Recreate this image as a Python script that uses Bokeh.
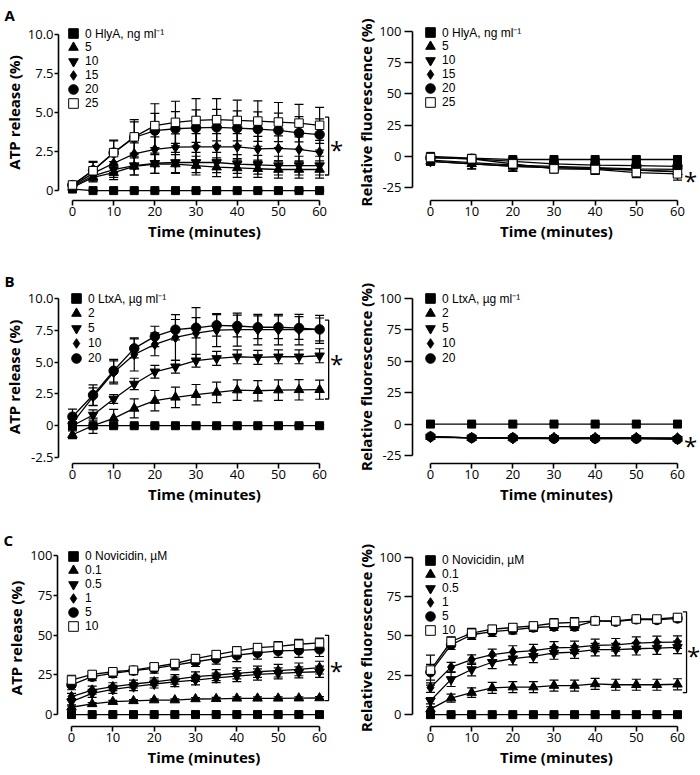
from bokeh.plotting import figure
from bokeh.layouts import column, row
from bokeh.models import (ColumnDataSource, Whisker, TeeHead, Legend, LegendItem,
                          Label, FixedTicker, Range1d)
from bokeh.embed import file_html
from bokeh.resources import INLINE

FONT = "Open Sans"
LEGEND_FONT = "Liberation Sans"

# ---------------- data ----------------
time_5min = [0, 5, 10, 15, 20, 25, 30, 35, 40, 45, 50, 55, 60]
time_10min = [0, 10, 20, 30, 40, 50, 60]
x_ticks = [0, 10, 20, 30, 40, 50, 60]

# Panel A - HlyA
hly_labels = ["0 HlyA, ng ml\u207b\u00b9", "5", "10", "15", "20", "25"]
a_atp_0 = [0.1, 0.0, 0.0, 0.0, 0.0, 0.0, 0.0, 0.0, 0.0, 0.0, 0.0, 0.0, 0.0]
a_atp_0_err = [0.05, 0.05, 0.05, 0.05, 0.05, 0.05, 0.05, 0.05, 0.05, 0.05, 0.05, 0.05, 0.05]
a_atp_5 = [0.2, 0.85, 1.15, 1.55, 1.7, 1.7, 1.6, 1.5, 1.45, 1.4, 1.35, 1.35, 1.35]
a_atp_5_err = [0.15, 0.3, 0.45, 0.55, 0.6, 0.6, 0.6, 0.6, 0.6, 0.55, 0.55, 0.55, 0.55]
a_atp_10 = [0.25, 0.95, 1.35, 1.6, 1.75, 1.8, 1.8, 1.8, 1.7, 1.65, 1.6, 1.6, 1.6]
a_atp_10_err = [0.15, 0.35, 0.5, 0.6, 0.65, 0.65, 0.65, 0.65, 0.6, 0.6, 0.6, 0.6, 0.6]
a_atp_15 = [0.3, 1.1, 1.75, 2.35, 2.64, 2.78, 2.8, 2.8, 2.8, 2.67, 2.7, 2.64, 2.47]
a_atp_15_err = [0.15, 0.4, 0.6, 0.7, 0.8, 0.85, 0.85, 0.85, 0.85, 0.8, 0.8, 0.8, 0.75]
a_atp_20 = [0.35, 1.3, 2.43, 3.4, 3.84, 3.96, 4.02, 4.05, 4.0, 3.94, 3.86, 3.69, 3.59]
a_atp_20_err = [0.2, 0.5, 0.75, 1.0, 1.1, 1.1, 1.15, 1.15, 1.1, 1.1, 1.1, 1.05, 1.0]
a_atp_25 = [0.36, 1.27, 2.43, 3.44, 4.16, 4.37, 4.49, 4.54, 4.49, 4.45, 4.39, 4.32, 4.18]
a_atp_25_err = [0.2, 0.6, 0.8, 1.1, 1.4, 1.35, 1.4, 1.35, 1.3, 1.3, 1.25, 1.2, 1.15]
a_atp_bracket = [1.0, 4.7]
a_atp_star = 2.8

a_fl_0 = [0, -1.5, -2.5, -2.5, -2.5, -2.5, -2.5]
a_fl_0_err = [1, 1, 1, 1, 1, 1, 1]
a_fl_5 = [-4, -6, -8, -9, -9.5, -11, -12.5]
a_fl_5_err = [3, 4, 4, 4, 4, 4, 4]
a_fl_10 = [-4, -6, -8, -9, -10, -11, -12]
a_fl_10_err = [3, 4, 4, 4, 4, 4, 4]
a_fl_15 = [-3, -5, -7, -8, -9, -10, -10.5]
a_fl_15_err = [3, 3, 4, 4, 4, 4, 4]
a_fl_20 = [-1, -2, -4, -6, -7, -7.5, -8]
a_fl_20_err = [2, 3, 3, 3, 3, 3, 3]
a_fl_25 = [-1, -2, -6, -10, -10.5, -13, -14]
a_fl_25_err = [2, 3, 3, 3, 4, 4, 5]
a_fl_star = -17

# Panel B - LtxA
ltx_labels = ["0 LtxA, \u00b5g ml\u207b\u00b9", "2", "5", "10", "20"]
b_atp_0 = [0.0, 0.0, 0.0, 0.0, 0.0, 0.0, 0.0, 0.0, 0.0, 0.0, 0.0, 0.0, 0.0]
b_atp_0_err = [0.1, 0.1, 0.1, 0.1, 0.1, 0.1, 0.1, 0.1, 0.1, 0.1, 0.1, 0.1, 0.1]
b_atp_2 = [-0.71, 0.0, 0.58, 1.36, 1.97, 2.23, 2.44, 2.62, 2.8, 2.75, 2.8, 2.82, 2.83]
b_atp_2_err = [0.3, 0.6, 0.7, 0.75, 0.8, 0.8, 0.8, 0.8, 0.8, 0.8, 0.8, 0.8, 0.75]
b_atp_5 = [0.0, 0.84, 2.1, 3.28, 4.24, 4.64, 5.11, 5.29, 5.42, 5.37, 5.42, 5.42, 5.5]
b_atp_5_err = [0.3, 0.4, 0.35, 0.45, 0.5, 0.5, 0.5, 0.55, 0.55, 0.55, 0.55, 0.55, 0.55]
b_atp_10 = [0.2, 2.28, 4.19, 5.6, 6.4, 6.94, 7.28, 7.52, 7.55, 7.55, 7.55, 7.55, 7.57]
b_atp_10_err = [0.3, 0.7, 0.9, 1.3, 0.9, 1.8, 2.0, 1.3, 1.3, 1.2, 1.2, 1.2, 1.1]
b_atp_20 = [0.71, 2.41, 4.32, 6.08, 7.02, 7.55, 7.7, 7.89, 7.84, 7.74, 7.74, 7.68, 7.57]
b_atp_20_err = [0.6, 0.8, 0.9, 0.75, 0.8, 0.8, 0.8, 0.85, 0.85, 0.9, 0.9, 0.9, 0.9]
b_atp_bracket = [2.1, 8.3]
b_atp_star = 5.1

b_fl_0 = [0, 0, 0, 0, 0, 0, 0]
b_fl_0_err = [0.5, 0.5, 0.5, 0.5, 0.5, 0.5, 0.5]
b_fl_2 = [-10, -11, -11, -11, -11, -11, -11.5]
b_fl_2_err = [1.5, 1.5, 1.5, 1.5, 1.5, 1.5, 1.5]
b_fl_5 = [-10.5, -11, -11.5, -11.5, -11.5, -11.5, -12]
b_fl_5_err = [1.5, 1.5, 1.5, 1.5, 1.5, 1.5, 1.5]
b_fl_10 = [-10, -11, -11, -11, -11, -11, -11]
b_fl_10_err = [1, 1, 1, 1, 1, 1, 1]
b_fl_20 = [-10, -11, -11, -11.5, -11.5, -11.5, -12]
b_fl_20_err = [1, 1, 1, 1, 1, 1, 1]
b_fl_star = -15

# Panel C - Novicidin
nov_labels = ["0 Novicidin, \u00b5M", "0.1", "0.5", "1", "5", "10"]
c_atp_0 = [0.0, 0.0, 0.0, 0.0, 0.0, 0.0, 0.0, 0.0, 0.0, 0.0, 0.0, 0.0, 0.0]
c_atp_0_err = [0.3, 0.3, 0.3, 0.3, 0.3, 0.3, 0.3, 0.3, 0.3, 0.3, 0.3, 0.3, 0.3]
c_atp_01 = [4.6, 6.7, 8.1, 8.6, 9.1, 9.1, 9.8, 9.9, 10.2, 10.2, 10.2, 10.3, 10.4]
c_atp_01_err = [0.8, 0.8, 0.8, 0.8, 0.8, 0.8, 0.8, 0.9, 0.9, 0.9, 0.9, 0.9, 0.9]
c_atp_05 = [8.1, 13.3, 15.8, 17.5, 19.2, 20.6, 21.7, 23.1, 24.2, 25.2, 25.9, 26.5, 26.9]
c_atp_05_err = [2, 2.5, 2.5, 2.5, 2.5, 3, 3, 3, 3.5, 3.5, 3.5, 3.5, 3.5]
c_atp_1 = [11.3, 15.4, 17.5, 19.2, 20.6, 22.1, 23.8, 24.8, 25.9, 26.9, 27.6, 28.4, 29.5]
c_atp_1_err = [2, 2.5, 2.5, 2.5, 2.5, 3, 3, 3.5, 3.5, 3.5, 4, 4, 4]
c_atp_5 = [18.6, 23.8, 25.9, 27.6, 29.0, 31.1, 33.2, 35.2, 37.3, 38.8, 40.0, 40.4, 41.0]
c_atp_5_err = [3, 2.5, 2.5, 2.5, 3, 3, 3, 3.5, 4, 4, 4, 4.5, 4.5]
c_atp_10 = [21.7, 25.2, 26.9, 27.9, 30.0, 32.1, 35.2, 37.7, 40.0, 42.1, 42.9, 44.2, 45.0]
c_atp_10_err = [3, 2, 2, 2, 2, 2, 2.5, 2.5, 2.5, 2.5, 3, 3, 3]
c_atp_bracket = [8.8, 49.8]
c_atp_star = 29.5

c_fl_0 = [0.0, 0.0, 0.0, 0.0, 0.0, 0.0, 0.0, 0.0, 0.0, 0.0, 0.0, 0.0, 0.0]
c_fl_0_err = [0.3, 0.3, 0.3, 0.3, 0.3, 0.3, 0.3, 0.3, 0.3, 0.3, 0.3, 0.3, 0.3]
c_fl_01 = [3.5, 10.5, 14.0, 17.0, 17.5, 17.5, 18.5, 18.5, 19.5, 19.0, 19.0, 19.0, 19.3]
c_fl_01_err = [1.5, 2.5, 3, 3.5, 3.5, 3.5, 3.5, 3.5, 3.5, 3.5, 3.5, 3.5, 3.5]
c_fl_05 = [8.8, 22.4, 28.7, 33.3, 35.6, 37.1, 39.2, 39.8, 41.3, 41.3, 41.9, 42.3, 42.8]
c_fl_05_err = [2, 4.5, 4, 4, 4, 4, 4, 4, 4, 4, 4, 4, 4]
c_fl_1 = [17.2, 30.2, 35.0, 38.2, 39.8, 40.7, 42.4, 42.8, 44.0, 44.4, 45.5, 45.9, 46.1]
c_fl_1_err = [3, 3, 3, 3.5, 4, 4, 4, 4, 4, 4, 4, 4, 4]
c_fl_5 = [27.0, 44.4, 50.8, 52.8, 53.9, 55.4, 56.0, 56.0, 59.6, 59.1, 60.6, 60.2, 61.2]
c_fl_5_err = [5, 3, 3, 3, 2.5, 2.5, 2.5, 2.5, 2, 2, 2, 2, 2]
c_fl_10 = [28.3, 46.5, 51.8, 54.3, 55.4, 56.4, 58.1, 58.7, 59.6, 59.6, 60.8, 60.8, 61.8]
c_fl_10_err = [9.5, 3, 3, 2.5, 2.5, 2.5, 3, 3, 2, 2, 2, 2, 2]
c_fl_bracket = [14.0, 65.4]
c_fl_star = 39.7

# tick labels
atp_a_ticks = [0, 2.5, 5, 7.5, 10]
atp_a_tick_labels = ["0", "2.5", "5.0", "7.5", "10.0"]
atp_b_ticks = [-2.5, 0, 2.5, 5, 7.5, 10]
atp_b_tick_labels = ["-2.5", "0", "2.5", "5.0", "7.5", "10.0"]
fl_ab_ticks = [-25, 0, 25, 50, 75, 100]
pct_ticks = [0, 25, 50, 75, 100]

# ---------------- styles / layout ----------------
MARKERS = ["square", "triangle", "inverted_triangle", "diamond", "circle", "square"]
FILLS = ["black", "black", "black", "black", "black", "white"]
SIZES = [8, 9.5, 9.5, 10.5, 9.5, 8.5]
FIG_W = 350
LEFT_BORDER, RIGHT_BORDER = 57, 62
LEFT_XR = (-3.39, 67.5)
RIGHT_XR = (-4.37, 65.59)
BRACKET_X = 62.2
BRACKET_TICK = 0.9


def make_panel(left, height, mb_top, mb_bottom, y_rng, y_ticks, y_tick_labels, y_bounds,
               y_label, times, values, errors, labels, legend_spec,
               bracket=None, star=None, star_x=64.1, letter=None):
    border = LEFT_BORDER if left else RIGHT_BORDER
    p = figure(width=FIG_W, height=height,
               x_range=Range1d(*(LEFT_XR if left else RIGHT_XR)), y_range=Range1d(*y_rng),
               output_backend="svg", toolbar_location=None,
               min_border_left=border, min_border_right=0,
               min_border_top=mb_top, min_border_bottom=mb_bottom)
    p.outline_line_color = None
    p.xgrid.visible = False
    p.ygrid.visible = False
    p.background_fill_color = "white"
    p.border_fill_color = "white"
    if letter is not None:
        p.title.text = letter
        p.title.align = "left"
        p.title.offset = 3 - border
        p.title.standoff = 0
        p.title.vertical_align = "bottom"
        p.title.text_font = FONT
        p.title.text_font_size = "15px"
        p.title.text_font_style = "bold"
        p.title.text_color = "black"
    for ax in (p.xaxis[0], p.yaxis[0]):
        ax.axis_line_width = 1.6
        ax.axis_line_color = "black"
        ax.major_tick_line_width = 1.6
        ax.major_tick_line_color = "black"
        ax.major_tick_in = 0
        ax.minor_tick_in = 0
        ax.minor_tick_out = 0
        ax.major_label_text_font = FONT
        ax.major_label_text_font_size = "13px"
        ax.major_label_text_color = "black"
        ax.axis_label_text_font = FONT
        ax.axis_label_text_font_size = "15px"
        ax.axis_label_text_font_style = "bold"
        ax.axis_label_text_color = "black"
    xa = p.xaxis[0]
    xa.ticker = FixedTicker(ticks=x_ticks)
    xa.bounds = (0, 60)
    xa.axis_label = "Time (minutes)"
    xa.major_tick_out = 5
    xa.major_label_standoff = 1
    xa.axis_label_standoff = 2
    ya = p.yaxis[0]
    ya.ticker = FixedTicker(ticks=y_ticks)
    ya.major_label_overrides = {t: s for t, s in zip(y_ticks, y_tick_labels)}
    ya.bounds = y_bounds
    ya.axis_label = y_label
    if left:
        ya.major_tick_out = 4
        ya.major_label_standoff = 1
        ya.axis_label_standoff = 1
    else:
        ya.major_tick_out = 8
        ya.major_label_standoff = 3
        ya.axis_label_standoff = 0

    for vals in values:
        p.line(times, vals, line_color="black", line_width=1.3)
    for vals, errs in zip(values, errors):
        src = ColumnDataSource(dict(x=times,
                                    upper=[v + e for v, e in zip(vals, errs)],
                                    lower=[v - e for v, e in zip(vals, errs)]))
        w = Whisker(source=src, base="x", upper="upper", lower="lower",
                    line_color="black", line_width=1.2,
                    upper_head=TeeHead(size=9, line_color="black", line_width=1.2),
                    lower_head=TeeHead(size=9, line_color="black", line_width=1.2))
        p.add_layout(w)
    rends = []
    for i, vals in enumerate(values):
        r = p.scatter(times, vals, marker=MARKERS[i], size=SIZES[i],
                      fill_color=FILLS[i], line_color="black", line_width=1)
        rends.append(r)

    # one small legend per entry, stacked (frame-relative screen offsets)
    vx, vy0, pitch = legend_spec
    for i, (lab, r) in enumerate(zip(labels, rends)):
        lg = Legend(items=[LegendItem(label=lab, renderers=[r])],
                    location=(vx, vy0 - pitch * i), orientation="vertical",
                    glyph_width=24, glyph_height=24, label_height=12,
                    spacing=0, label_standoff=-7,
                    padding=0, margin=0, border_line_color=None, background_fill_alpha=0,
                    label_text_font=LEGEND_FONT, label_text_font_size="12px",
                    label_text_color="black")
        p.add_layout(lg)

    if bracket is not None:
        p.line([BRACKET_X - BRACKET_TICK, BRACKET_X, BRACKET_X, BRACKET_X - BRACKET_TICK],
               [bracket[0], bracket[0], bracket[1], bracket[1]],
               line_color="black", line_width=1.3)
    if star is not None:
        p.add_layout(Label(x=star_x, y=star, text="*", text_font=FONT, text_font_size="24px",
                           text_align="center", text_baseline="middle", y_offset=-3,
                           text_color="black"))
    return p


ATP = "ATP release (%)"
FL = "Relative fluorescence (%)"

pa1 = make_panel(True, 250, 22, 50, (-0.633, 10.633), atp_a_ticks, atp_a_tick_labels, (0, 10),
                 ATP, time_5min,
                 [a_atp_0, a_atp_5, a_atp_10, a_atp_15, a_atp_20, a_atp_25],
                 [a_atp_0_err, a_atp_5_err, a_atp_10_err, a_atp_15_err, a_atp_20_err, a_atp_25_err],
                 hly_labels, (3, 155, 14), bracket=a_atp_bracket, star=a_atp_star, letter="A")
pa2 = make_panel(False, 250, 24, 49, (-35.35, 105.6), fl_ab_ticks, [str(t) for t in fl_ab_ticks],
                 (-25, 100), FL, time_10min,
                 [a_fl_0, a_fl_5, a_fl_10, a_fl_15, a_fl_20, a_fl_25],
                 [a_fl_0_err, a_fl_5_err, a_fl_10_err, a_fl_15_err, a_fl_20_err, a_fl_25_err],
                 hly_labels, (6, 156, 14), star=a_fl_star, star_x=63.2)

pb1 = make_panel(True, 258, 40, 45, (-2.97, 10.63), atp_b_ticks, atp_b_tick_labels, (-2.5, 10),
                 ATP, time_5min,
                 [b_atp_0, b_atp_2, b_atp_5, b_atp_10, b_atp_20],
                 [b_atp_0_err, b_atp_2_err, b_atp_5_err, b_atp_10_err, b_atp_20_err],
                 ltx_labels, (6, 153, 15), bracket=b_atp_bracket, star=b_atp_star, letter="B")
pb2 = make_panel(False, 258, 40, 45, (-31.4, 106.4), fl_ab_ticks, [str(t) for t in fl_ab_ticks],
                 (-25, 100), FL, time_10min,
                 [b_fl_0, b_fl_2, b_fl_5, b_fl_10, b_fl_20],
                 [b_fl_0_err, b_fl_2_err, b_fl_5_err, b_fl_10_err, b_fl_20_err],
                 ltx_labels, (6, 153, 15), star=b_fl_star, star_x=63.2)

pc1 = make_panel(True, 266, 41, 47, (-7.5, 103.75), pct_ticks, [str(t) for t in pct_ticks], (0, 100),
                 ATP, time_5min,
                 [c_atp_0, c_atp_01, c_atp_05, c_atp_1, c_atp_5, c_atp_10],
                 [c_atp_0_err, c_atp_01_err, c_atp_05_err, c_atp_1_err, c_atp_5_err, c_atp_10_err],
                 nov_labels, (4, 158, 14), bracket=c_atp_bracket, star=c_atp_star, letter="C")
pc2 = make_panel(False, 266, 39, 48, (-7.55, 105.0), pct_ticks, [str(t) for t in pct_ticks], (0, 100),
                 FL, time_5min,
                 [c_fl_0, c_fl_01, c_fl_05, c_fl_1, c_fl_5, c_fl_10],
                 [c_fl_0_err, c_fl_01_err, c_fl_05_err, c_fl_1_err, c_fl_5_err, c_fl_10_err],
                 nov_labels, (6, 154, 14), bracket=c_fl_bracket, star=c_fl_star, star_x=63.9)

layout = column(row(pa1, pa2), row(pb1, pb2), row(pc1, pc2))

with open("out.html", "w") as f:
    f.write(file_html(layout, INLINE, "ATP release and fluorescence"))
